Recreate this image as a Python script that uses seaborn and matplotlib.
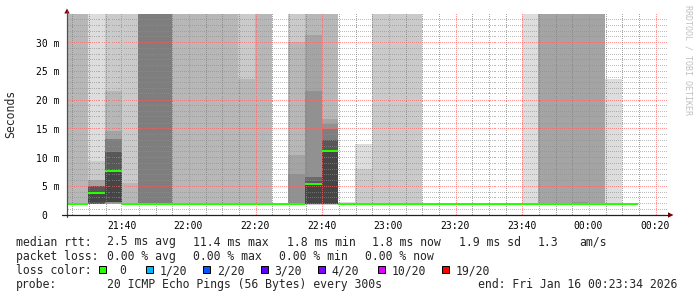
import numpy as np
import pandas as pd
import matplotlib
matplotlib.use("Agg")
import matplotlib.pyplot as plt
import seaborn as sns
from matplotlib.lines import Line2D
from matplotlib.patches import Polygon, Rectangle

# ---------------- data ----------------
bin_starts = ["21:20", "21:25", "21:30", "21:35", "21:40", "21:45", "21:50",
              "21:55", "22:00", "22:05", "22:10", "22:15", "22:20", "22:25",
              "22:30", "22:35", "22:40", "22:45", "22:50", "22:55", "23:00",
              "23:05", "23:10", "23:15", "23:20", "23:25", "23:30", "23:35",
              "23:40", "23:45", "23:50", "23:55", "00:00", "00:05", "00:10"]

# 20 sorted ping RTTs (ms) per 5-minute step; 40 = beyond the top of the scale
pings = [
    [1.80, 1.81, 1.82, 1.83, 1.84, 1.85, 1.85, 1.86, 1.86, 1.87, 1.87, 1.88, 1.88, 1.89, 1.90, 1.91, 1.93, 40, 40, 40],
    [1.80, 1.81, 1.82, 1.83, 1.84, 1.85, 1.85, 1.86, 1.86, 1.87, 1.87, 1.88, 1.88, 1.89, 1.90, 1.91, 1.93, 40, 40, 40],
    [1.85, 1.88, 1.90, 1.92, 1.94, 1.96, 1.98, 2.00, 2.30, 3.85, 3.95, 3.97, 5.05, 5.05, 5.05, 5.05, 6.10, 6.10, 9.45, 40],
    [1.85, 1.90, 1.95, 2.00, 2.10, 2.20, 2.25, 2.28, 2.30, 7.50, 7.70, 7.85, 11.0, 11.0, 13.2, 13.2, 14.7, 21.6, 40, 40],
    [1.82, 1.84, 1.85, 1.86, 1.87, 1.88, 1.89, 1.90, 1.91, 1.92, 1.93, 1.94, 1.95, 1.96, 1.97, 1.98, 2.00, 5.50, 40, 40],
    [1.85, 1.86, 1.87, 1.88, 1.89, 1.90, 1.91, 1.92, 1.93, 1.94, 1.95, 1.96, 1.97, 1.98, 40, 40, 40, 40, 40, 40],
    [1.85, 1.86, 1.87, 1.88, 1.89, 1.90, 1.91, 1.92, 1.93, 1.94, 1.95, 1.96, 1.97, 1.98, 40, 40, 40, 40, 40, 40],
    [1.80, 1.81, 1.82, 1.83, 1.84, 1.85, 1.85, 1.86, 1.86, 1.88, 1.88, 1.88, 1.89, 1.89, 1.90, 1.91, 1.93, 40, 40, 40],
    [1.80, 1.81, 1.82, 1.83, 1.84, 1.85, 1.85, 1.86, 1.86, 1.87, 1.87, 1.88, 1.88, 1.89, 1.90, 1.91, 1.93, 40, 40, 40],
    [1.80, 1.81, 1.82, 1.83, 1.84, 1.85, 1.85, 1.86, 1.86, 1.87, 1.87, 1.88, 1.88, 1.89, 1.90, 1.91, 2.05, 40, 40, 40],
    [1.80, 1.81, 1.82, 1.83, 1.84, 1.85, 1.85, 1.86, 1.86, 1.87, 1.87, 1.88, 1.88, 1.89, 1.90, 1.91, 1.93, 40, 40, 40],
    [1.80, 1.81, 1.82, 1.83, 1.84, 1.85, 1.85, 1.86, 1.86, 1.87, 1.87, 1.88, 1.88, 1.89, 1.90, 1.91, 1.93, 23.7, 40, 40],
    [1.80, 1.81, 1.82, 1.83, 1.84, 1.85, 1.85, 1.86, 1.86, 1.87, 1.87, 1.88, 1.88, 1.89, 1.90, 1.91, 1.93, 40, 40, 40],
    [1.80, 1.81, 1.82, 1.83, 1.84, 1.85, 1.85, 1.86, 1.86, 1.87, 1.87, 1.88, 1.88, 1.89, 1.90, 1.91, 1.92, 1.93, 1.94, 1.95],
    [1.80, 1.81, 1.82, 1.83, 1.84, 1.85, 1.85, 1.86, 1.86, 1.87, 1.87, 1.88, 1.88, 1.89, 1.90, 7.15, 10.5, 30.2, 40, 40],
    [1.80, 1.82, 1.84, 1.86, 1.88, 1.90, 1.92, 1.94, 1.96, 5.30, 5.40, 5.50, 5.90, 6.70, 6.70, 21.6, 31.4, 40, 40, 40],
    [1.80, 1.82, 1.84, 1.86, 1.88, 1.90, 1.92, 1.94, 1.96, 11.1, 11.2, 11.4, 13.1, 13.1, 14.9, 15.8, 16.7, 40, 40, 40],
    [1.80, 1.81, 1.82, 1.83, 1.84, 1.85, 1.85, 1.86, 1.86, 1.87, 1.87, 1.88, 1.88, 1.89, 1.90, 1.91, 1.92, 1.93, 2.05, 2.30],
    [1.80, 1.81, 1.82, 1.83, 1.84, 1.85, 1.85, 1.86, 1.86, 1.87, 1.87, 1.88, 1.88, 1.89, 1.90, 1.91, 1.92, 1.93, 8.00, 12.4],
    [1.80, 1.81, 1.82, 1.83, 1.84, 1.85, 1.85, 1.86, 1.86, 1.87, 1.87, 1.88, 1.88, 1.89, 1.90, 1.91, 1.92, 1.93, 40, 40],
    [1.80, 1.81, 1.82, 1.83, 1.84, 1.85, 1.85, 1.86, 1.86, 1.87, 1.87, 1.88, 1.88, 1.89, 1.90, 1.91, 1.92, 1.93, 40, 40],
    [1.80, 1.81, 1.82, 1.83, 1.84, 1.85, 1.85, 1.86, 1.86, 1.87, 1.87, 1.88, 1.88, 1.89, 1.90, 1.91, 1.92, 1.93, 40, 40],
    [1.80, 1.81, 1.82, 1.83, 1.84, 1.85, 1.85, 1.86, 1.86, 1.87, 1.87, 1.88, 1.88, 1.89, 1.90, 1.91, 1.92, 1.93, 1.94, 1.95],
    [1.80, 1.81, 1.82, 1.83, 1.84, 1.85, 1.85, 1.86, 1.86, 1.87, 1.87, 1.88, 1.88, 1.89, 1.90, 1.91, 1.92, 1.93, 1.94, 1.95],
    [1.80, 1.81, 1.82, 1.83, 1.84, 1.84, 1.85, 1.85, 1.86, 1.86, 1.86, 1.87, 1.87, 1.88, 1.89, 1.90, 1.91, 1.92, 1.93, 1.94],
    [1.80, 1.81, 1.82, 1.83, 1.84, 1.84, 1.85, 1.85, 1.86, 1.86, 1.86, 1.87, 1.87, 1.88, 1.89, 1.90, 1.91, 1.92, 1.93, 1.94],
    [1.80, 1.81, 1.82, 1.83, 1.84, 1.84, 1.85, 1.85, 1.86, 1.86, 1.86, 1.87, 1.87, 1.88, 1.89, 1.90, 1.91, 1.92, 1.93, 1.94],
    [1.80, 1.81, 1.82, 1.83, 1.84, 1.84, 1.85, 1.85, 1.86, 1.86, 1.86, 1.87, 1.87, 1.88, 1.89, 1.90, 1.91, 1.92, 1.93, 1.94],
    [1.80, 1.81, 1.82, 1.83, 1.84, 1.84, 1.85, 1.85, 1.86, 1.86, 1.86, 1.87, 1.87, 1.88, 1.89, 1.90, 1.91, 1.92, 1.95, 40],
    [1.80, 1.81, 1.82, 1.83, 1.84, 1.84, 1.85, 1.85, 1.86, 1.86, 1.86, 1.87, 1.87, 1.88, 1.89, 1.92, 40, 40, 40, 40],
    [1.80, 1.81, 1.82, 1.83, 1.84, 1.84, 1.85, 1.85, 1.86, 1.86, 1.86, 1.87, 1.87, 1.88, 1.89, 1.92, 40, 40, 40, 40],
    [1.80, 1.81, 1.82, 1.83, 1.84, 1.84, 1.85, 1.85, 1.86, 1.86, 1.86, 1.87, 1.87, 1.88, 1.89, 2.30, 40, 40, 40, 40],
    [1.80, 1.81, 1.82, 1.83, 1.84, 1.84, 1.85, 1.85, 1.86, 1.86, 1.86, 1.87, 1.87, 1.88, 1.89, 1.92, 40, 40, 40, 40],
    [1.80, 1.81, 1.82, 1.83, 1.84, 1.84, 1.85, 1.85, 1.86, 1.86, 1.86, 1.87, 1.87, 1.88, 1.89, 1.90, 1.91, 1.92, 1.95, 23.7],
    [1.80, 1.81, 1.82, 1.83, 1.84, 1.84, 1.85, 1.85, 1.86, 1.86, 1.86, 1.87, 1.87, 1.88, 1.89, 1.90, 1.91, 1.92, 1.93, 1.94],
]

smoke_grays = ["#dddddd", "#cacaca", "#b7b7b7", "#a4a4a4", "#919191",
               "#7e7e7e", "#6b6b6b", "#585858", "#454545", "#323232"]

x_tick_labels = ["21:40", "22:00", "22:20", "22:40", "23:00", "23:20", "23:40", "00:00", "00:20"]
y_tick_values = [0, 5, 10, 15, 20, 25, 30]
y_tick_labels = ["0  ", "5 m", "10 m", "15 m", "20 m", "25 m", "30 m"]

window_start = "21:23:34"
window_end = "00:23:34"

legend_median = [("median rtt:", 16), ("2.5 ms avg", 107.3), ("11.4 ms max", 193.3),
                 ("1.8 ms min", 286.7), ("1.8 ms now", 372.3), ("1.9 ms sd", 459),
                 ("1.3", 537.7), ("am/s", 579.3)]
legend_loss = [("packet loss:", 16), ("0.00 % avg", 107.3), ("0.00 % max", 193.3),
               ("0.00 % min", 279.3), ("0.00 % now", 365)]
loss_labels = ["0", "1/20", "2/20", "3/20", "4/20", "10/20", "19/20"]
loss_colors = ["#26ff00", "#00b8ff", "#0059ff", "#5e00ff", "#7e00ff", "#dd00ff", "#ff0000"]
probe_text = "20 ICMP Echo Pings (56 Bytes) every 300s"
end_text = "end: Fri Jan 16 00:23:34 2026"


def to_min(s):
    parts = [int(p) for p in s.split(":")]
    h, m = parts[0], parts[1]
    sec = parts[2] if len(parts) > 2 else 0
    if h < 12:
        h += 24
    return (h - 21) * 60 + m + sec / 60.0


# ---------------- style ----------------
sns.set_style("white")
plt.rcParams["font.family"] = ["DejaVu Sans Mono"]

W, H = 697, 297
AX_L, AX_R, AX_T, AX_B = 67, 667, 14, 215
fig = plt.figure(figsize=(W / 100, H / 100), dpi=100)
fig.patch.set_facecolor("white")


def fx(x):
    return x / W


def fy(y):
    return 1 - y / H


ax = fig.add_axes([fx(AX_L), fy(AX_B), (AX_R - AX_L) / W, (AX_B - AX_T) / H])
ax.set_facecolor("white")
for sp in ax.spines.values():
    sp.set_visible(False)

P = np.array(pings)
xs = np.array([to_min(s) for s in bin_starts])
df = pd.DataFrame(P, columns=[f"p{i+1}" for i in range(20)])
df["x"] = xs
df["median"] = df[[f"p{i+1}" for i in range(20)]].median(axis=1)

for k in range(10):
    lo = df[f"p{k+1}"].values
    hi = df[f"p{20-k}"].values
    ax.bar(df["x"], hi - lo, bottom=lo, width=5, align="edge",
           color=smoke_grays[k], linewidth=0, antialiased=False, zorder=1 + 0.01 * k)

band = 0.35
ax.bar(df["x"], band, bottom=df["median"] - band / 2, width=5, align="edge",
       color=loss_colors[0], linewidth=0, antialiased=False, zorder=3)

x0, x1 = to_min(window_start), to_min(window_end)
y0, y1 = 0, 35
ax.set_xlim(x0, x1)
ax.set_ylim(y0, y1)

xt = [to_min(s) for s in x_tick_labels]
minor_x = [v for v in np.arange(25, 205, 5) if v not in xt]
minor_y = [v for v in range(1, 35) if v not in y_tick_values]
ax.set_xticks(xt)
ax.set_xticklabels(x_tick_labels)
ax.set_xticks(minor_x, minor=True)
ax.set_yticks(y_tick_values)
ax.set_yticklabels(y_tick_labels)
ax.set_yticks(minor_y, minor=True)

# dotted grid (1 px on / 1 px off), drawn over the smoke like rrdtool
sx = (AX_R - AX_L) / (x1 - x0)
sy = (AX_B - AX_T) / (y1 - y0)


def px_to_x(p):
    return x0 + (p - AX_L) / sx


def px_to_y(p):
    return y0 + (AX_B - p) / sy


cols_px = np.arange(AX_L, AX_R, 2) + 0.5
rows_px = np.arange(AX_T, AX_B, 2) + 0.5


def hgrid(vals, color, alpha):
    for v in vals:
        r = np.floor(AX_B - (v - y0) * sy) + 0.5
        ax.plot(px_to_x(cols_px), np.full(cols_px.shape, px_to_y(r)), ",",
                color=color, alpha=alpha, zorder=2.5, clip_on=False)


def vgrid(vals, color, alpha):
    for v in vals:
        c = np.floor(AX_L + (v - x0) * sx) + 0.5
        ax.plot(np.full(rows_px.shape, px_to_x(c)), px_to_y(rows_px), ",",
                color=color, alpha=alpha, zorder=2.5, clip_on=False)


hgrid(minor_y, "#909090", 0.6)
vgrid(minor_x, "#808080", 0.7)
hgrid([v for v in y_tick_values if v > 0], "#ff6060", 0.65)
vgrid(xt, "#ff6060", 0.65)

ax.tick_params(which="major", length=1.6, width=0.72, color="#ff8080",
               labelsize=7.0, labelcolor="black")
ax.tick_params(which="minor", length=1.6, width=0.72, color="#c0c0c0")
ax.tick_params(axis="x", which="major", pad=2.5)
ax.tick_params(axis="y", which="major", pad=3.5)

# axis lines and arrows
fig.add_artist(Line2D([fx(67), fx(67)], [fy(217), fy(11)], color="#505050", lw=0.9))
fig.add_artist(Line2D([fx(62), fx(670)], [fy(215), fy(215)], color="#202020", lw=0.9))
arrow_c = "#7f0000"
fig.add_artist(Polygon([(fx(64.3), fy(13.5)), (fx(69.7), fy(13.5)), (fx(67), fy(8.5))],
                       closed=True, color=arrow_c, lw=0))
fig.add_artist(Polygon([(fx(668), fy(212.3)), (fx(668), fy(217.7)), (fx(673.5), fy(215))],
                       closed=True, color=arrow_c, lw=0))

# labels
fig.text(fx(11), fy(114), "Seconds", rotation=90, ha="center", va="center", fontsize=8.3)
fig.text(fx(688), fy(60), "RRDTOOL / TOBI OETIKER", rotation=270, ha="center",
         va="center", fontsize=6.0, color="#c0c0c0")

fs = 8.3
base = [245.5, 259.8, 274.1, 288.4]
for s, x in legend_median:
    fig.text(fx(x), fy(base[0]), s, fontsize=fs, va="baseline", ha="left")
for s, x in legend_loss:
    fig.text(fx(x), fy(base[1]), s, fontsize=fs, va="baseline", ha="left")
fig.text(fx(16), fy(base[2]), "loss color:", fontsize=fs, va="baseline", ha="left")
box_x = [99, 146, 203.3, 261, 318.3, 377.7, 441.7]
lab_x = [119.3, 159.3, 216.7, 274, 331.7, 391.7, 456]
for lab, col, bx, lx in zip(loss_labels, loss_colors, box_x, lab_x):
    fig.add_artist(Rectangle((fx(bx), fy(273)), 7 / W, 7 / H, facecolor=col,
                             edgecolor="black", lw=0.72))
    fig.text(fx(lx), fy(base[2]), lab, fontsize=fs, va="baseline", ha="left")
fig.text(fx(16), fy(base[3]), "probe:", fontsize=fs, va="baseline", ha="left")
fig.text(fx(107.3), fy(base[3]), probe_text, fontsize=fs, va="baseline", ha="left")
fig.text(fx(478.3), fy(base[3]), end_text, fontsize=fs, va="baseline", ha="left")

fig.savefig("out.png", dpi=100, facecolor="white")
